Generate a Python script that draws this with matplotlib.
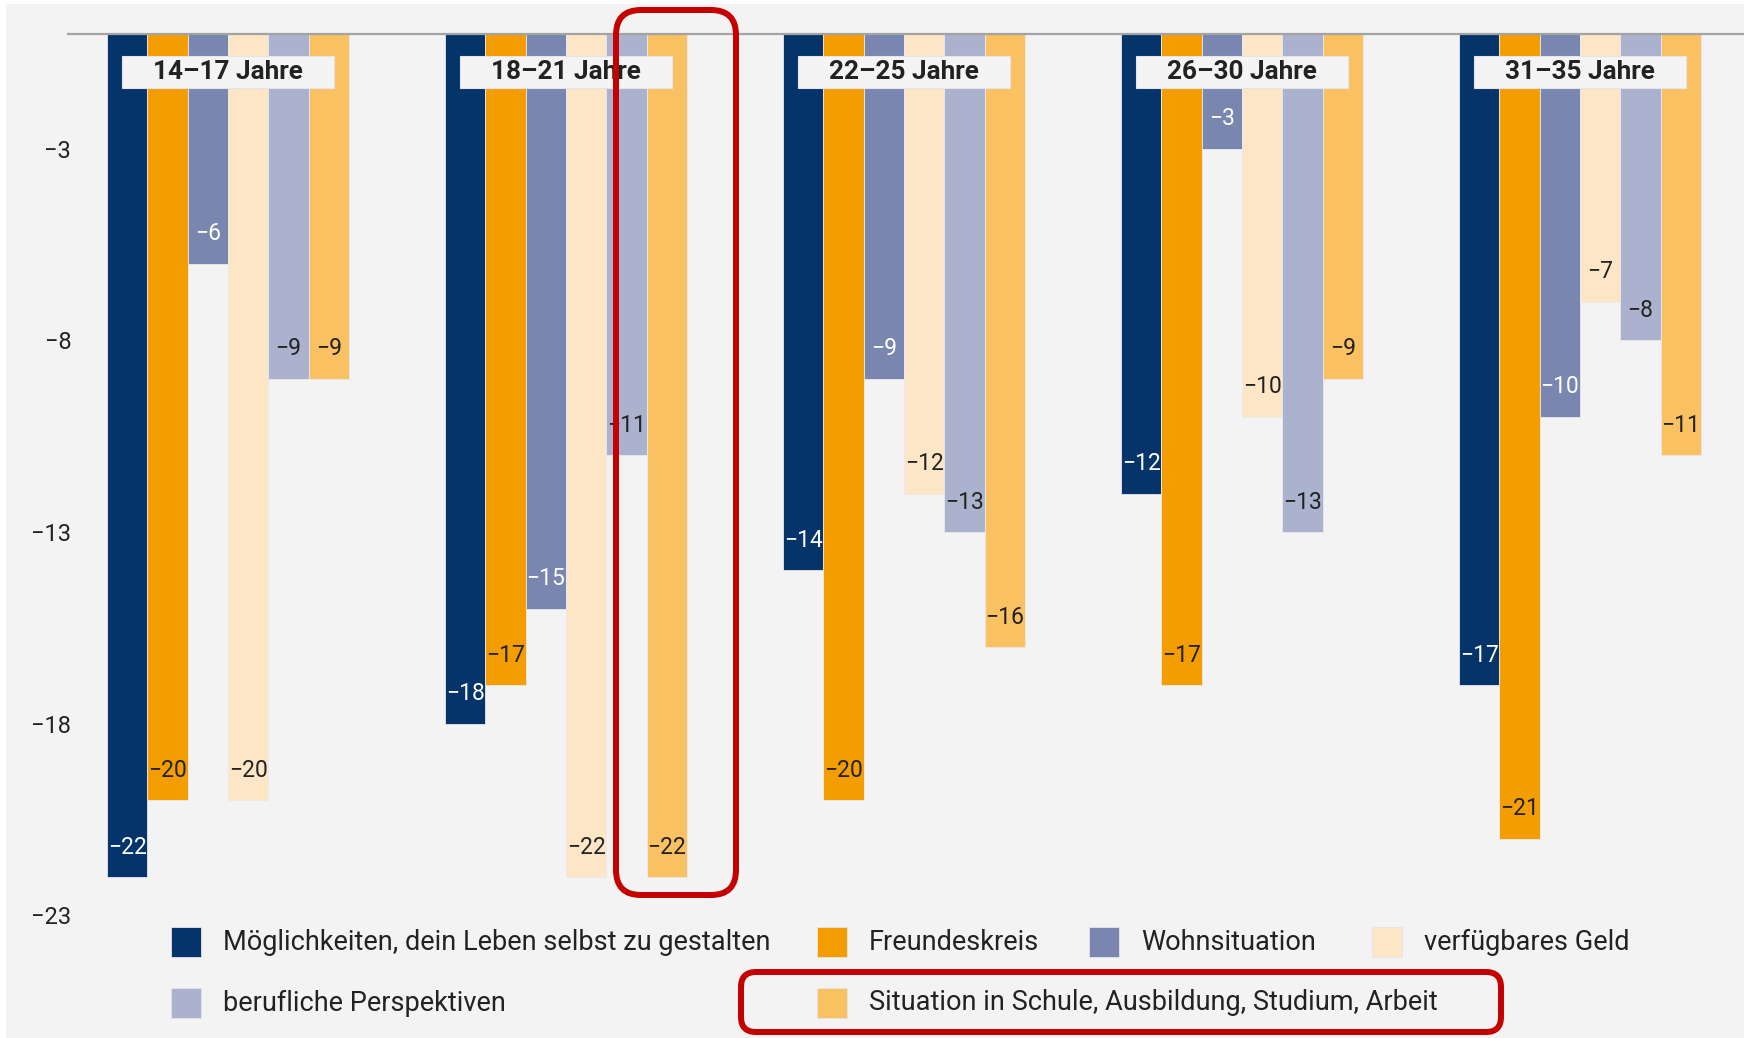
import numpy as np
import matplotlib
matplotlib.use("Agg")
import matplotlib.pyplot as plt
from matplotlib import font_manager
from matplotlib.patches import Rectangle, FancyBboxPatch
from matplotlib.transforms import Affine2D

# ===============================
# Data
# ===============================
groups = ["14–17 Jahre", "18–21 Jahre", "22–25 Jahre", "26–30 Jahre", "31–35 Jahre"]
series = ["Möglichkeiten, dein Leben selbst zu gestalten", "Freundeskreis", "Wohnsituation",
          "verfügbares Geld", "berufliche Perspektiven", "Situation in Schule, Ausbildung, Studium, Arbeit"]
moeglichkeiten = [-22, -18, -14, -12, -17]
freundeskreis = [-20, -17, -20, -17, -21]
wohnsituation = [-6, -15, -9, -3, -10]
geld = [-20, -22, -12, -10, -7]
perspektiven = [-9, -11, -13, -13, -8]
situation = [-9, -22, -16, -9, -11]
yticks = [-3, -8, -13, -18, -23]

values = [moeglichkeiten, freundeskreis, wohnsituation, geld, perspektiven, situation]
colors = ["#04346a", "#f49d00", "#7886b0", "#fde6c5", "#aab2ce", "#f9c161"]
label_colors = ["white", "#222222", "white", "#222222", "#222222", "#222222"]

# font: Roboto is close in width to the original humanist sans
available = {f.name for f in font_manager.fontManager.ttflist}
FONT = "Roboto" if "Roboto" in available else "DejaVu Sans"
plt.rcParams["font.family"] = [FONT, "DejaVu Sans"]

W, H = 1744, 1038
fig = plt.figure(figsize=(W / 100, H / 100), dpi=100, facecolor="white")

# grey panel
fig.patches.append(Rectangle((6 / W, 0), 1, (H - 4) / H, transform=fig.transFigure,
                             facecolor="#f3f3f3", edgecolor="none", zorder=-5))

ax = fig.add_axes([67 / W, 0, 1 - 67 / W, 1])
ax.set_facecolor("none")

bw = 0.1192
x = np.arange(len(groups))
for i, (vals, col) in enumerate(zip(values, colors)):
    pos = x + (i - 2.5) * bw
    ax.bar(pos, vals, width=bw, color=col, edgecolor="#e9e9ee", linewidth=0.6, zorder=2)
    for xp, v in zip(pos, vals):
        ax.text(xp, v + 0.78, f"−{abs(v)}", ha="center", va="center", fontsize=16.5,
                color=label_colors[i], zorder=4)

# group labels in boxes
for g, name in zip(x, groups):
    ax.add_patch(Rectangle((g - 0.3136, -1.42), 0.627, 0.835, facecolor="#f4f4f4",
                           edgecolor="#e4e4ea", linewidth=0.8, zorder=3))
    ax.text(g, -1.0, name, ha="center", va="center", fontsize=18.8, fontweight="bold",
            color="#222222", zorder=4)

ax.axhline(0, color="#a3a3a3", linewidth=1.6, zorder=3)
ax.set_xlim(-0.4763, 4.485)
ax.set_ylim(-(H - 33.5) / 38.34, 33.5 / 38.34)
ax.set_xticks([])
ax.set_yticks(yticks)
ax.set_yticklabels([f"−{abs(t)}" for t in yticks], fontsize=17, color="#222222")
ax.tick_params(axis="y", length=0, pad=-3)
for s in ax.spines.values():
    s.set_visible(False)

# legend laid out like the original (pixel positions, top-left origin)
leg_pos = [(171, 942), (817, 942), (1089, 942), (1372, 942), (171, 1003), (817, 1003)]
px = Affine2D()
for (lx, ly), name, col in zip(leg_pos, series, colors):
    fig.patches.append(Rectangle((lx, H - ly - 15), 30, 30, transform=px,
                                 facecolor=col, edgecolor="#e4e4ea", linewidth=0.6))
    fig.text((lx + 52) / W, (H - ly) / H, name, ha="left", va="center", fontsize=19.5,
             color="#222222")

# red hand-drawn style highlights
red_boxes = [(616, 10, 736, 895, 25), (741, 972, 1501, 1032, 15)]
for x0, y0, x1, y1, r in red_boxes:
    fig.patches.append(FancyBboxPatch((x0, H - y1), x1 - x0, y1 - y0,
                                      boxstyle=f"round,pad=0,rounding_size={r}",
                                      transform=px, facecolor="none", edgecolor="#c40000",
                                      linewidth=4.3, zorder=10))

fig.savefig("out.png", dpi=100, facecolor=fig.get_facecolor())
